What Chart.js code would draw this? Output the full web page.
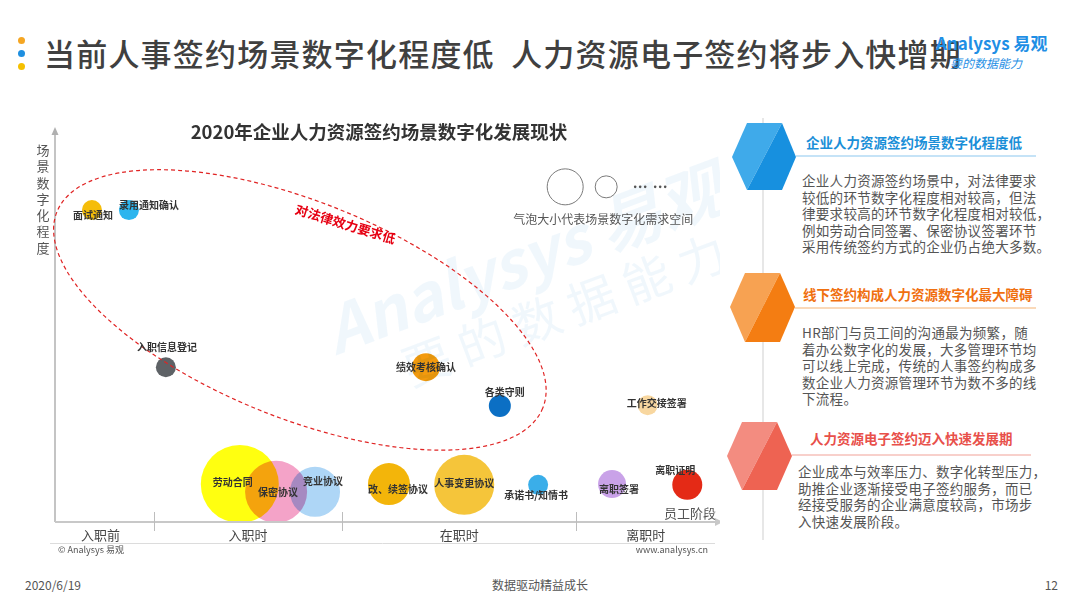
<!DOCTYPE html>
<html>
<head>
<meta charset="utf-8">
<script src="https://cdn.jsdelivr.net/npm/chart.js@4.4.1/dist/chart.umd.min.js"></script>
<style>
	body { margin: 0; background: #fff; font-family: "Noto Sans CJK SC", sans-serif; }
	#page { position: relative; width: 1080px; height: 608px; overflow: hidden; }
	.abs { position: absolute; white-space: nowrap; }
	.dot { position: absolute; left: 18px; width: 7px; height: 7px; border-radius: 50%; }
	#title { left: 44px; top: 33px; font-size: 31px; line-height: 40px; color: #404040; font-weight: 500; letter-spacing: 1.2px; }
	.head { font-size: 13.5px; font-weight: bold; line-height: 18px; }
	.body { font-size: 13.5px; line-height: 16.5px; color: #555; letter-spacing: 0.3px; }
	.foot { top: 577px; font-size: 12px; color: #555; line-height: 16px; }
	#chart { position: absolute; left: 0; top: 100px; }
</style>
</head>
<body>
<div id="page">
	<div class="dot" style="top:37px;background:#F5A623"></div>
	<div class="dot" style="top:50px;background:#1E8FE0"></div>
	<div class="dot" style="top:63px;background:#F5C000"></div>
	<div id="title" class="abs">当前人事签约场景数字化程度低&nbsp;&nbsp;人力资源电子签约将步入快增期</div>
	<div class="abs" style="left:936px;top:30px;font-size:17px;font-weight:bold;color:#1F8FE5;">Analysys 易观</div>
	<div class="abs" style="left:950px;top:54px;font-size:12px;font-style:italic;color:#1F8FE5;">要的数据能力</div>

	<svg class="abs" style="left:0;top:0" width="1080" height="608">
		<line x1="763" y1="118" x2="763" y2="540" stroke="#cfcfcf" stroke-width="1"/>
		<polygon points="732,157 747,123 782,123 747,190" fill="#3FAAEA"/>
		<polygon points="782,123 796,157 782,190 747,190" fill="#1790DF"/>
		<line x1="796" y1="156" x2="1036" y2="156" stroke="#8CC8F0" stroke-width="1.2"/>
		<polygon points="730,307 745,273 780,273 745,342" fill="#F7A252"/>
		<polygon points="780,273 795,307 780,342 745,342" fill="#F47D12"/>
		<line x1="795" y1="308" x2="1036" y2="308" stroke="#F6B475" stroke-width="1.2"/>
		<polygon points="727,456 742,422 777,422 742,490" fill="#F38C80"/>
		<polygon points="777,422 792,456 777,490 742,490" fill="#EE6352"/>
		<line x1="792" y1="455" x2="1031" y2="455" stroke="#F2A298" stroke-width="1.2"/>
	</svg>

	<div class="abs head" style="left:806px;top:133px;color:#1A8FD8;">企业人力资源签约场景数字化程度低</div>
	<div class="abs body" style="left:802px;top:172px;">企业人力资源签约场景中，对法律要求<br>较低的环节数字化程度相对较高，但法<br>律要求较高的环节数字化程度相对较低，<br>例如劳动合同签署、保密协议签署环节<br>采用传统签约方式的企业仍占绝大多数。</div>

	<div class="abs head" style="left:803px;top:285px;color:#F07010;">线下签约构成人力资源数字化最大障碍</div>
	<div class="abs body" style="left:802px;top:324px;">HR部门与员工间的沟通最为频繁，随<br>着办公数字化的发展，大多管理环节均<br>可以线上完成，传统的人事签约构成多<br>数企业人力资源管理环节为数不多的线<br>下流程。</div>

	<div class="abs head" style="left:810px;top:429px;color:#E8504A;">人力资源电子签约迈入快速发展期</div>
	<div class="abs body" style="left:798px;top:463px;">企业成本与效率压力、数字化转型压力，<br>助推企业逐渐接受电子签约服务，而已<br>经接受服务的企业满意度较高，市场步<br>入快速发展阶段。</div>

	<div class="abs foot" style="left:25px;">2020/6/19</div>
	<div class="abs foot" style="left:0;width:1080px;text-align:center;">数据驱动精益成长</div>
	<div class="abs foot" style="right:22px;">12</div>

	<canvas id="chart" width="720" height="460"></canvas>
</div>

<script>
// stages along the x axis (boundaries in x units)
const stageNames = ["入职前", "入职时", "在职时", "离职时"];
const stageBounds = [0, 15, 43.5, 79, 100];

// signing scenes
const scenes = ["面试通知", "录用通知确认", "入职信息登记", "绩效考核确认", "各类守则", "工作交接签署",
	"劳动合同", "保密协议", "竞业协议", "改、续签协议", "人事变更协议", "承诺书/知情书", "离职签署", "离职证明"];
// x = employee stage, y = digitalisation level, demand = bubble size
const sceneStage = [5.6, 11.2, 16.8, 56.2, 67.4, 89.8, 28, 33.5, 39.4, 50.6, 62, 73.2, 84.4, 95.8];
const sceneDigital = [80.6, 80.6, 40, 40, 30, 30.2, 9.8, 7.8, 7.8, 9.8, 9.6, 9.6, 9.8, 9.6];
const sceneDemand = [10, 10, 10, 14, 11, 10, 39, 31, 25, 21, 30, 10, 14, 15];

const sceneColors = ["#F5BD0A", "#2CB5EE", "#5E6266", "#F39A0E", "#0B6FC4", "#F8D7A0",
	"#FFFF10", "#F4A3C8", "#AED6F6", "#F3B50A", "#F5C53A", "#3AAEE9", "#C9A2E8", "#E42A16"];
// label offset from bubble centre, px
const labelOffsets = [[1, 5], [20, -5], [1, -20], [0, 0], [5, -14], [9, -2],
	[-7, -2], [2, 0], [8, -11], [9, 5], [0, -2], [-2, 10], [7, 5], [-12, -15]];

const FONT = '"Noto Sans CJK SC", sans-serif';

const decor = {
	id: "decor",
	beforeDatasetsDraw(chart) {
		const ctx = chart.ctx;
		const x = chart.scales.x, y = chart.scales.y;
		// faint watermark
		ctx.save();
		ctx.translate(x.getPixelForValue(71), y.getPixelForValue(68));
		ctx.rotate(-0.36);
		ctx.fillStyle = "rgba(200,228,245,0.28)";
		ctx.font = "bold italic 64px " + FONT;
		ctx.textAlign = "center";
		ctx.textBaseline = "middle";
		ctx.fillText("Analysys 易观", 0, 0);
		ctx.font = "48px " + FONT;
		ctx.fillText("要 的 数 据 能 力", 20, 62);
		ctx.restore();

		ctx.save();
		ctx.globalCompositeOperation = "multiply";
	},
	afterDatasetsDraw(chart) {
		const ctx = chart.ctx;
		ctx.restore();
		const a = chart.chartArea;
		const x = chart.scales.x, y = chart.scales.y;

		ctx.save();
		// chart title
		ctx.fillStyle = "#333";
		ctx.font = "bold 18.5px " + FONT;
		ctx.textAlign = "center";
		ctx.textBaseline = "middle";
		ctx.fillText("2020年企业人力资源签约场景数字化发展现状", 379, 32);

		// y axis title, vertical
		ctx.fillStyle = "#555";
		ctx.font = "13px " + FONT;
		Array.from("场景数字化程度").forEach((ch, i) => ctx.fillText(ch, 43, 50 + i * 16.3));

		// axes
		ctx.strokeStyle = "#b0b0b0";
		ctx.fillStyle = "#b0b0b0";
		ctx.lineWidth = 1.5;
		ctx.beginPath();
		ctx.moveTo(a.left, a.bottom);
		ctx.lineTo(a.left, a.top - 2);
		ctx.stroke();
		ctx.beginPath();
		ctx.moveTo(a.left - 3.5, a.top);
		ctx.lineTo(a.left, a.top - 8);
		ctx.lineTo(a.left + 3.5, a.top);
		ctx.fill();
		ctx.strokeStyle = "#c8c8c8";
		ctx.fillStyle = "#c8c8c8";
		ctx.lineWidth = 2;
		ctx.beginPath();
		ctx.moveTo(a.left, a.bottom);
		ctx.lineTo(a.right + 2, a.bottom);
		ctx.stroke();
		ctx.beginPath();
		ctx.moveTo(a.right, a.bottom - 4);
		ctx.lineTo(a.right + 8, a.bottom);
		ctx.lineTo(a.right, a.bottom + 4);
		ctx.fill();

		// stage separators and names
		ctx.strokeStyle = "#bdbdbd";
		ctx.lineWidth = 1;
		stageBounds.slice(1, -1).forEach(v => {
			const px = Math.round(x.getPixelForValue(v)) + 0.5;
			ctx.beginPath();
			ctx.moveTo(px, a.bottom - 10);
			ctx.lineTo(px, a.bottom + 9);
			ctx.stroke();
		});
		ctx.fillStyle = "#444";
		ctx.font = "13px " + FONT;
		stageNames.forEach((n, i) => {
			const mid = (stageBounds[i] + stageBounds[i + 1]) / 2;
			ctx.fillText(n, x.getPixelForValue(mid) - (i === 0 ? 4 : 0), a.bottom + 13);
		});
		ctx.fillStyle = "#555";
		ctx.fillText("员工阶段", a.right - 25, a.bottom - 9);

		// source line
		ctx.strokeStyle = "#dcdcdc";
		ctx.beginPath();
		ctx.moveTo(a.left - 5, a.bottom + 21.5);
		ctx.lineTo(a.right, a.bottom + 21.5);
		ctx.stroke();
		ctx.font = "9px " + FONT;
		ctx.fillStyle = "#555";
		ctx.textAlign = "left";
		ctx.fillText("© Analysys 易观", a.left + 3, a.bottom + 28);
		ctx.textAlign = "right";
		ctx.fillText("www.analysys.cn", a.right - 7, a.bottom + 28);

		// bubble size legend
		ctx.textAlign = "center";
		const lx = x.getPixelForValue(77.3), ly = y.getPixelForValue(86.6);
		ctx.strokeStyle = "#7a7a7a";
		ctx.lineWidth = 1;
		ctx.beginPath();
		ctx.arc(lx, ly, 18, 0, Math.PI * 2);
		ctx.stroke();
		ctx.beginPath();
		ctx.arc(lx + 41, ly, 11, 0, Math.PI * 2);
		ctx.stroke();
		ctx.fillStyle = "#555";
		[0, 5, 10, 20, 25, 30].forEach(d => {
			ctx.beginPath();
			ctx.arc(lx + 70 + d, ly, 1.3, 0, Math.PI * 2);
			ctx.fill();
		});
		ctx.font = "12px " + FONT;
		ctx.fillText("气泡大小代表场景数字化需求空间", lx + 38, ly + 33);

		// dashed ellipse around the low legal-requirement scenes
		ctx.strokeStyle = "#E02424";
		ctx.lineWidth = 1.2;
		ctx.setLineDash([4, 3]);
		ctx.beginPath();
		ctx.ellipse(x.getPixelForValue(37.1), y.getPixelForValue(54.8), 262, 108, 22 * Math.PI / 180, 0, Math.PI * 2);
		ctx.stroke();
		ctx.setLineDash([]);
		ctx.save();
		ctx.translate(x.getPixelForValue(44), y.getPixelForValue(77));
		ctx.rotate(17 * Math.PI / 180);
		ctx.fillStyle = "#E60012";
		ctx.font = "bold 13px " + FONT;
		ctx.fillText("对法律效力要求低", 0, 0);
		ctx.restore();

		// bubble labels
		const meta = chart.getDatasetMeta(0);
		ctx.fillStyle = "#333";
		ctx.font = "bold 10px " + FONT;
		ctx.textAlign = "center";
		meta.data.forEach((el, i) => {
			ctx.fillText(scenes[i], el.x + labelOffsets[i][0], el.y + labelOffsets[i][1]);
		});
		ctx.restore();
	}
};

new Chart(document.getElementById("chart"), {
	type: "bubble",
	data: {
		datasets: [{
			label: "签约场景",
			data: scenes.map((s, i) => ({ x: sceneStage[i], y: sceneDigital[i], r: sceneDemand[i] })),
			backgroundColor: sceneColors,
			borderWidth: 0,
			hoverRadius: 0,
			clip: false
		}]
	},
	options: {
		responsive: false,
		animation: false,
		layout: { autoPadding: false, padding: { left: 55, right: 5, top: 35, bottom: 38 } },
		scales: {
			x: { type: "linear", min: 0, max: 100, display: false },
			y: { type: "linear", min: 0, max: 100, display: false }
		},
		plugins: {
			legend: { display: false },
			tooltip: { enabled: false }
		}
	},
	plugins: [decor]
});
</script>
</body>
</html>
